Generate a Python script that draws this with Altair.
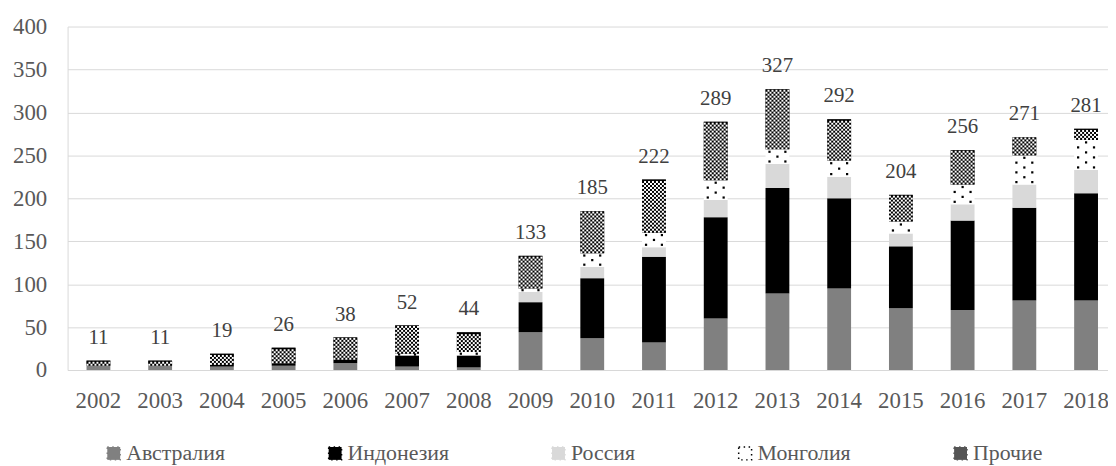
import altair as alt
import pandas as pd

years = [str(y) for y in range(2002, 2019)]
australia = [5, 5, 4, 5, 8, 4, 3, 44, 37, 32, 60, 89, 95, 72, 70, 81, 81]
indonesia = [0, 0, 2, 3, 4, 13, 14, 35, 70, 100, 118, 123, 105, 72, 104, 108, 125]
russia = [0, 0, 0, 0, 0, 0, 0, 12, 13, 11, 20, 28, 25, 15, 19, 27, 27]
mongolia = [0, 0, 0, 0, 0, 2, 4, 4, 16, 17, 23, 17, 19, 14, 23, 34, 35]
others = [6, 6, 13, 18, 26, 33, 23, 38, 49, 62, 68, 70, 48, 31, 40, 21, 13]
totals = [11, 11, 19, 26, 38, 52, 44, 133, 185, 222, 289, 327, 292, 204, 256, 271, 281]

series_names = ["Австралия", "Индонезия", "Россия", "Монголия", "Прочие"]
series_colors = ["#808080", "#000000", "#d9d9d9", "#ffffff", "#555555"]
series_strokes = ["#808080", "#000000", "#d9d9d9", "#000000", "#555555"]
series_values = [australia, indonesia, russia, mongolia, others]

FONT = "Liberation Serif"
TXT = "#595959"
PX_PER_UNIT = 346 / 400  # plot height / y-domain, for pattern spacing

rows = []
for i, yr in enumerate(years):
    base = 0
    for name, vals in zip(series_names, series_values):
        v = vals[i]
        rows.append({"year": yr, "series": name, "value": v, "y0": base, "y1": base + v})
        base += v
df = pd.DataFrame(rows)

# dotted fill for Mongolia segments (offsets from the bar's left edge)
dots = []
# checker fill for "Прочие" segments (white cells on black)
cells = []
for r in rows:
    if r["series"] == "Монголия" and r["value"] > 0:
        n = max(1, round(r["value"] / 5.8))
        step = r["value"] / n
        for k in range(n):
            yy = r["y0"] + (k + 0.5) * step
            offs = [4, 20] if k % 2 == 0 else [12]
            for o in offs:
                dots.append({"year": r["year"], "y": yy, "off": o})
    if r["series"] == "Прочие" and r["value"] > 0:
        hpx = r["value"] * PX_PER_UNIT
        nrow = int(hpx // 2)
        for k in range(nrow):
            yy = r["y0"] + (2 * k + 1) / PX_PER_UNIT
            for c in range(12):
                if (k + c) % 2 == 0:
                    cells.append({"year": r["year"], "y": yy, "off": 2 * c + 1})
dots_df = pd.DataFrame(dots)
cells_df = pd.DataFrame(cells)

tot_df = pd.DataFrame({"year": years, "total": totals})

xscale = alt.Scale(domain=years, paddingInner=0.614, paddingOuter=0.307)
x_enc = alt.X("year:N", scale=xscale, sort=years,
              axis=alt.Axis(title=None, labelAngle=0, ticks=False, tickSize=0, grid=False,
                            domainColor="#d9d9d9", labelPadding=20, labelFont=FONT,
                            labelFontSize=23, labelColor=TXT))
yscale = alt.Scale(domain=[0, 400], nice=False)

bars = alt.Chart(df).mark_bar(strokeWidth=0).encode(
    x=x_enc,
    y=alt.Y("y1:Q", scale=yscale,
            axis=alt.Axis(title=None, values=list(range(0, 401, 50)), ticks=False, tickSize=0,
                          domain=True, domainColor="#d9d9d9", gridColor="#d9d9d9",
                          labelPadding=21, labelFont=FONT, labelFontSize=23, labelColor=TXT)),
    y2="y0:Q",
    color=alt.Color("series:N", scale=alt.Scale(domain=series_names, range=series_colors),
                    sort=series_names,
                    legend=alt.Legend(title=None, orient="none", legendX=35.5, legendY=419,
                                      direction="horizontal", columns=5, symbolType="square",
                                      symbolSize=169, symbolStrokeWidth=1.5, symbolDash=[1.5, 3.5],
                                      labelFont=FONT,
                                      labelFontSize=22, labelColor=TXT, labelOffset=1.5,
                                      columnPadding=99, padding=0, gridAlign="each")),
    stroke=alt.Stroke("series:N", scale=alt.Scale(domain=series_names, range=series_strokes),
                      sort=series_names, legend=None),
)

others_layer = alt.Chart(df[df["series"] == "Прочие"]).mark_bar(strokeWidth=0).encode(
    x=alt.X("year:N", sort=years),
    y=alt.Y("y1:Q"),
    y2="y0:Q",
    fill=alt.value("#000000"),
)

cell_layer = alt.Chart(cells_df).mark_square(size=4, opacity=1, color="#ffffff",
                                             strokeWidth=0).encode(
    x=alt.X("year:N", sort=years),
    y=alt.Y("y:Q"),
    xOffset=alt.XOffset("off:Q", scale=None),
)

dot_layer = alt.Chart(dots_df).mark_square(size=5, opacity=1, color="#000000").encode(
    x=alt.X("year:N", sort=years),
    y=alt.Y("y:Q"),
    xOffset=alt.XOffset("off:Q", scale=None),
)

labels = alt.Chart(tot_df).mark_text(font=FONT, fontSize=21, color="#404040",
                                     baseline="alphabetic", dy=-17).encode(
    x=alt.X("year:N", sort=years),
    y=alt.Y("total:Q"),
    text=alt.Text("total:Q"),
)

chart = alt.layer(bars, others_layer, cell_layer, dot_layer, labels).properties(
    width=1057, height=346,
    autosize=alt.AutoSizeParams(type="none"),
    padding={"left": 60, "top": 17, "right": -9, "bottom": 95},
).configure_view(stroke=None)

chart.save("out.html", embed_options={"renderer": "svg", "actions": False})
